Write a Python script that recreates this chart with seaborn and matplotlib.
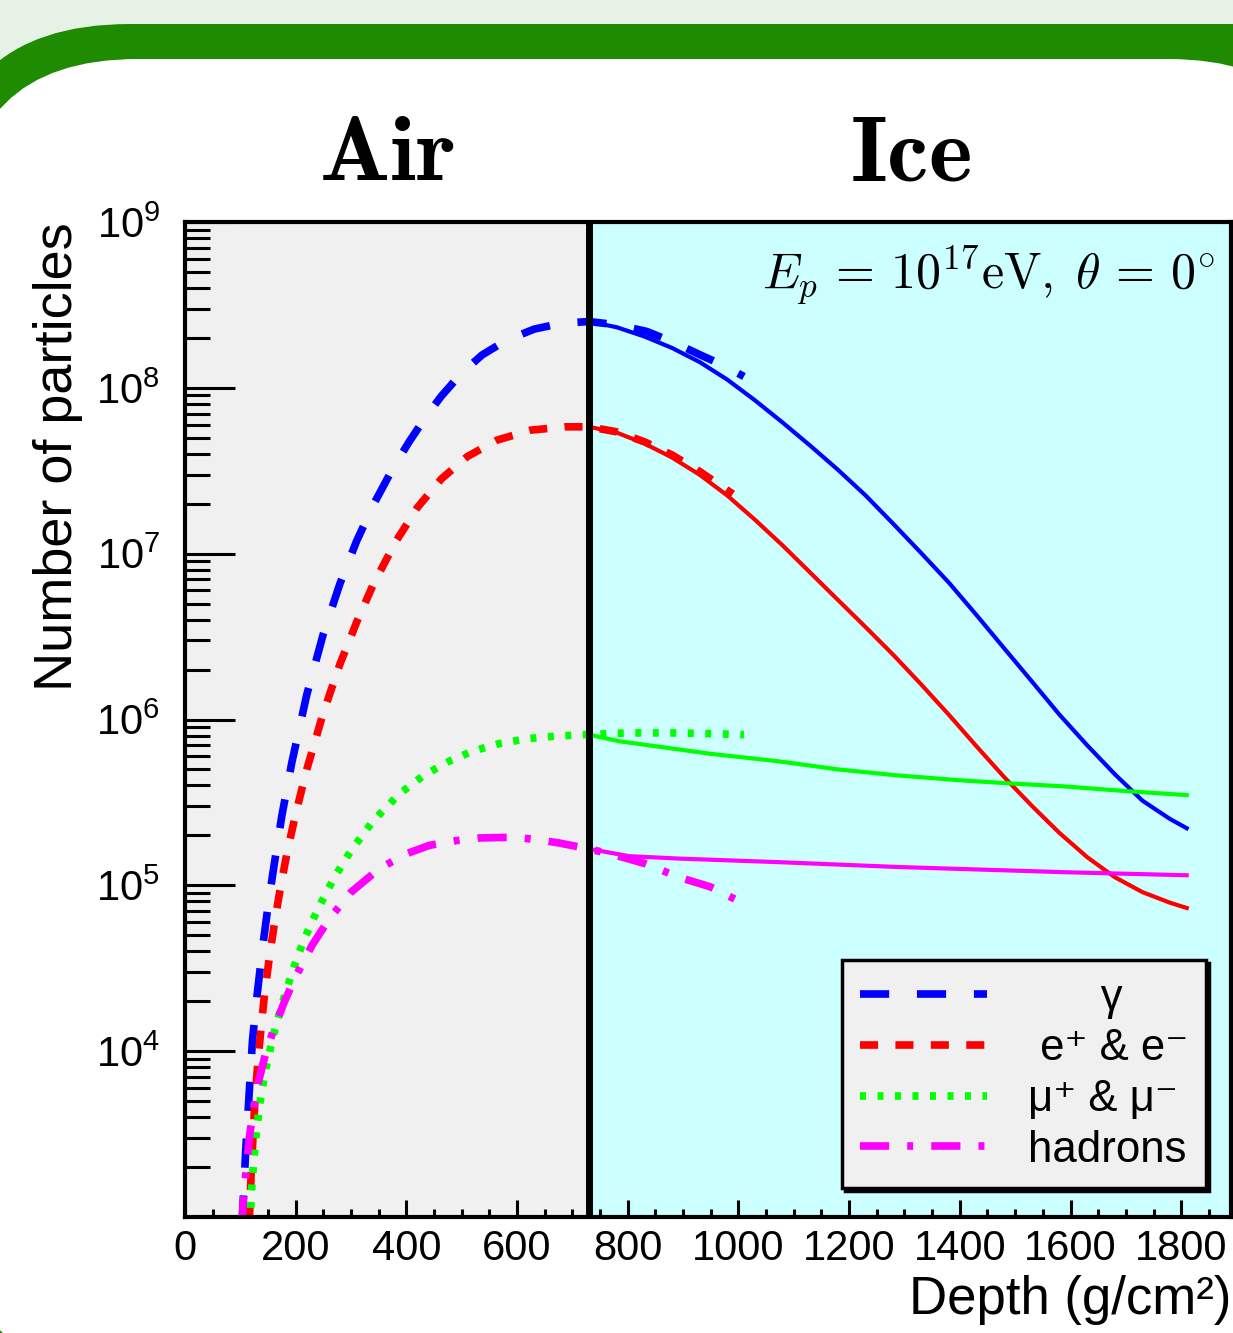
import numpy as np
import seaborn as sns
import matplotlib.pyplot as plt
from matplotlib.patches import FancyBboxPatch
from matplotlib.ticker import MultipleLocator, LogLocator, NullFormatter
from matplotlib.transforms import blended_transform_factory

plt.rcParams['font.family'] = ['Liberation Sans', 'DejaVu Sans']
plt.rcParams['mathtext.fontset'] = 'cm'
plt.rcParams['lines.scale_dashes'] = False

# depth (g/cm^2) where the shower hits the ice
ice_surface = 730
depth_max = 1890

# air simulation (dashed), continued a bit into the ice
gamma_air_depth = [103, 110, 116, 122, 130, 140, 150, 160, 175, 193, 220, 250, 280, 310, 342,
                   375, 405, 435, 463, 500, 537, 580, 631, 680, 730, 780, 834, 880, 931, 970, 1010]
gamma_air_n = [9e2, 2.63e3, 5.6e3, 1.17e4, 2.14e4, 4.17e4, 7.5e4, 1.26e5, 2.63e5, 5.5e5, 1.41e6,
               3.29e6, 6.6e6, 1.19e7, 2.02e7, 3.24e7, 4.73e7, 6.68e7, 8.9e7, 1.23e8, 1.58e8,
               1.93e8, 2.26e8, 2.45e8, 2.51e8, 2.4e8, 2.19e8, 1.9e8, 1.58e8, 1.38e8, 1.17e8]

elec_air_depth = [116, 120, 126, 132, 138, 144, 153, 162, 171, 184, 200, 220, 250, 280, 310,
                  340, 380, 420, 463, 510, 564, 625, 688, 730, 780, 830, 880, 930, 990]
elec_air_n = [8.9e2, 2.0e3, 4.8e3, 8.9e3, 1.45e4, 2.24e4, 3.8e4, 6.0e4, 9.1e4, 1.55e5, 2.7e5,
              5.0e5, 1.1e6, 2.16e6, 3.85e6, 6.5e6, 1.17e7, 1.9e7, 2.82e7, 3.85e7, 4.84e7,
              5.56e7, 5.82e7, 5.82e7, 5.43e7, 4.73e7, 3.94e7, 3.13e7, 2.29e7]

muon_air_depth = [117, 121, 127, 135, 145, 160, 177, 195, 215, 240, 270, 300, 340, 387, 430,
                  477, 520, 567, 620, 670, 730, 800, 880, 960, 1010]
muon_air_n = [8.9e2, 1.58e3, 2.82e3, 4.8e3, 7.6e3, 1.26e4, 2.0e4, 3.1e4, 4.7e4, 7.2e4, 1.12e5,
              1.62e5, 2.45e5, 3.55e5, 4.57e5, 5.6e5, 6.45e5, 7.15e5, 7.67e5, 7.94e5, 8.13e5,
              8.3e5, 8.3e5, 8.2e5, 8.1e5]

hadr_air_depth = [102, 108, 117, 130, 145, 160, 180, 200, 230, 261, 300, 351, 400, 441, 490,
                  532, 595, 640, 676, 730, 780, 832, 892, 949, 1005]
hadr_air_n = [8.9e2, 1.58e3, 3.16e3, 6.0e3, 9.5e3, 1.35e4, 2.0e4, 2.82e4, 4.37e4, 6.3e4, 9.1e4,
              1.26e5, 1.55e5, 1.74e5, 1.86e5, 1.93e5, 1.95e5, 1.88e5, 1.8e5, 1.66e5, 1.51e5,
              1.35e5, 1.12e5, 9.8e4, 7.9e4]

# ice simulation (solid)
gamma_ice_depth = [730, 780, 830, 880, 930, 980, 1030, 1080, 1130, 1180, 1230, 1280, 1330, 1380,
                   1430, 1480, 1530, 1580, 1630, 1680, 1730, 1780, 1810]
gamma_ice_n = [2.51e8, 2.32e8, 2.04e8, 1.74e8, 1.43e8, 1.12e8, 8.4e7, 6.17e7, 4.47e7, 3.2e7,
               2.24e7, 1.51e7, 1.01e7, 6.7e6, 4.27e6, 2.69e6, 1.7e6, 1.07e6, 7.0e5, 4.68e5,
               3.24e5, 2.51e5, 2.21e5]

elec_ice_depth = [730, 780, 830, 880, 930, 980, 1030, 1080, 1130, 1180, 1230, 1280, 1330, 1380,
                  1430, 1480, 1530, 1580, 1630, 1680, 1730, 1780, 1810]
elec_ice_n = [5.82e7, 5.37e7, 4.62e7, 3.8e7, 2.99e7, 2.24e7, 1.6e7, 1.12e7, 7.67e6, 5.25e6,
              3.6e6, 2.45e6, 1.63e6, 1.07e6, 6.9e5, 4.5e5, 3.02e5, 2.07e5, 1.48e5, 1.12e5,
              9.1e4, 7.85e4, 7.3e4]

muon_ice_depth = [730, 784, 892, 951, 1072, 1180, 1288, 1400, 1500, 1589, 1700, 1810]
muon_ice_n = [8.1e5, 7.4e5, 6.6e5, 6.2e5, 5.6e5, 5.0e5, 4.6e5, 4.3e5, 4.1e5, 3.95e5, 3.7e5, 3.5e5]

hadr_ice_depth = [730, 802, 892, 1072, 1288, 1589, 1810]
hadr_ice_n = [1.66e5, 1.5e5, 1.45e5, 1.38e5, 1.29e5, 1.2e5, 1.15e5]

labels = ["      γ", " e⁺ & e⁻", "μ⁺ & μ⁻", "hadrons"]
colors = ["#0000ff", "#ff0000", "#00ff00", "#ff00ff"]
dash_styles = [(0, (21, 20)), (0, (13, 12.5)), (0, (4.3, 8.3)), (0, (21, 13, 4.3, 13))]

fig = plt.figure(figsize=(12.33, 13.33), dpi=100, facecolor="#e6f2e6")

# slide-like frame behind the plot
bg = fig.add_axes([0, 0, 1, 1], zorder=-10)
bg.set_xlim(0, 1233)
bg.set_ylim(1333, 0)
bg.axis("off")
bg.add_patch(FancyBboxPatch((-61, 24), 1500, 1500, boxstyle="round,pad=0,rounding_size=191",
                            fc="#1e8b00", ec="none"))
bg.add_patch(FancyBboxPatch((-39, 59), 1384, 1321, boxstyle="round,pad=0,rounding_size=177",
                            fc="white", ec="none"))

ax = fig.add_axes([185 / 1233, 1 - 1217 / 1333, 1046 / 1233, 995 / 1333])
ax.set_yscale("log")

ax.axvspan(0, ice_surface, color="#f0f0f0", zorder=0, lw=0)
ax.axvspan(ice_surface, depth_max, color="#ccffff", zorder=0, lw=0)

air = [(gamma_air_depth, gamma_air_n), (elec_air_depth, elec_air_n),
       (muon_air_depth, muon_air_n), (hadr_air_depth, hadr_air_n)]
ice = [(gamma_ice_depth, gamma_ice_n), (elec_ice_depth, elec_ice_n),
       (muon_ice_depth, muon_ice_n), (hadr_ice_depth, hadr_ice_n)]

for (xa, ya), (xi, yi), lab, col, ls in zip(air, ice, labels, colors, dash_styles):
    sns.lineplot(x=xi, y=yi, ax=ax, color=col, linewidth=3, zorder=3)
    sns.lineplot(x=xa, y=ya, ax=ax, color=col, linewidth=5.5, linestyle=ls, label=lab, zorder=3)

ax.axvline(ice_surface, color="black", lw=5, zorder=4)

ax.set_xlim(0, depth_max)
ax.set_ylim(1e3, 1e9)
ax.xaxis.set_major_locator(MultipleLocator(200))
ax.xaxis.set_minor_locator(MultipleLocator(50))
ax.set_yticks([1e4, 1e5, 1e6, 1e7, 1e8, 1e9])
ax.yaxis.set_minor_locator(LogLocator(base=10, subs=np.arange(2, 10), numticks=20))
ax.yaxis.set_minor_formatter(NullFormatter())

ax.tick_params(axis="both", which="both", direction="in", top=False, right=False, width=2.2)
ax.tick_params(axis="x", which="major", length=12, pad=9, labelsize=30)
ax.tick_params(axis="x", which="minor", length=6)
ax.tick_params(axis="y", which="major", length=36, pad=18, labelsize=30)
ax.tick_params(axis="y", which="minor", length=18)
for s in ax.spines.values():
    s.set_linewidth(3)
    s.set_zorder(5)

ax.set_xlabel("Depth (g/cm²)", fontsize=38, loc="right")
ax.xaxis.set_label_coords(1.0, -0.058)
ax.set_ylabel("Number of particles", fontsize=39, loc="top")
ax.yaxis.set_label_coords(-0.0975, 1.0)

ax.text(0.985, 0.932, r"$E_p\,=\,10^{17}\mathrm{eV},\;\theta\,=\,0^{\circ}$", transform=ax.transAxes,
        ha="right", va="baseline", fontsize=36, zorder=6)

trans = blended_transform_factory(ax.transData, ax.transAxes)
ax.text(ice_surface / 2, 1.042, r"$\mathbf{Air}$", transform=trans, ha="center", va="baseline",
        fontsize=67)
ax.text((ice_surface + depth_max) / 2, 1.042, r"$\mathbf{Ice}$", transform=trans, ha="center",
        va="baseline", fontsize=67)

leg = ax.legend(loc="lower right", bbox_to_anchor=(0.976, 0.029), borderaxespad=0, fontsize=31.5,
                handlelength=2.9, handletextpad=0.95, borderpad=0.4, labelspacing=0.22,
                fancybox=False, facecolor="#f0f0f0", edgecolor="black", framealpha=1,
                shadow={"color": "black", "alpha": 1})
leg.get_frame().set_linewidth(2.5)
leg.set_zorder(7)

fig.savefig("out.png", dpi=100, facecolor=fig.get_facecolor())
